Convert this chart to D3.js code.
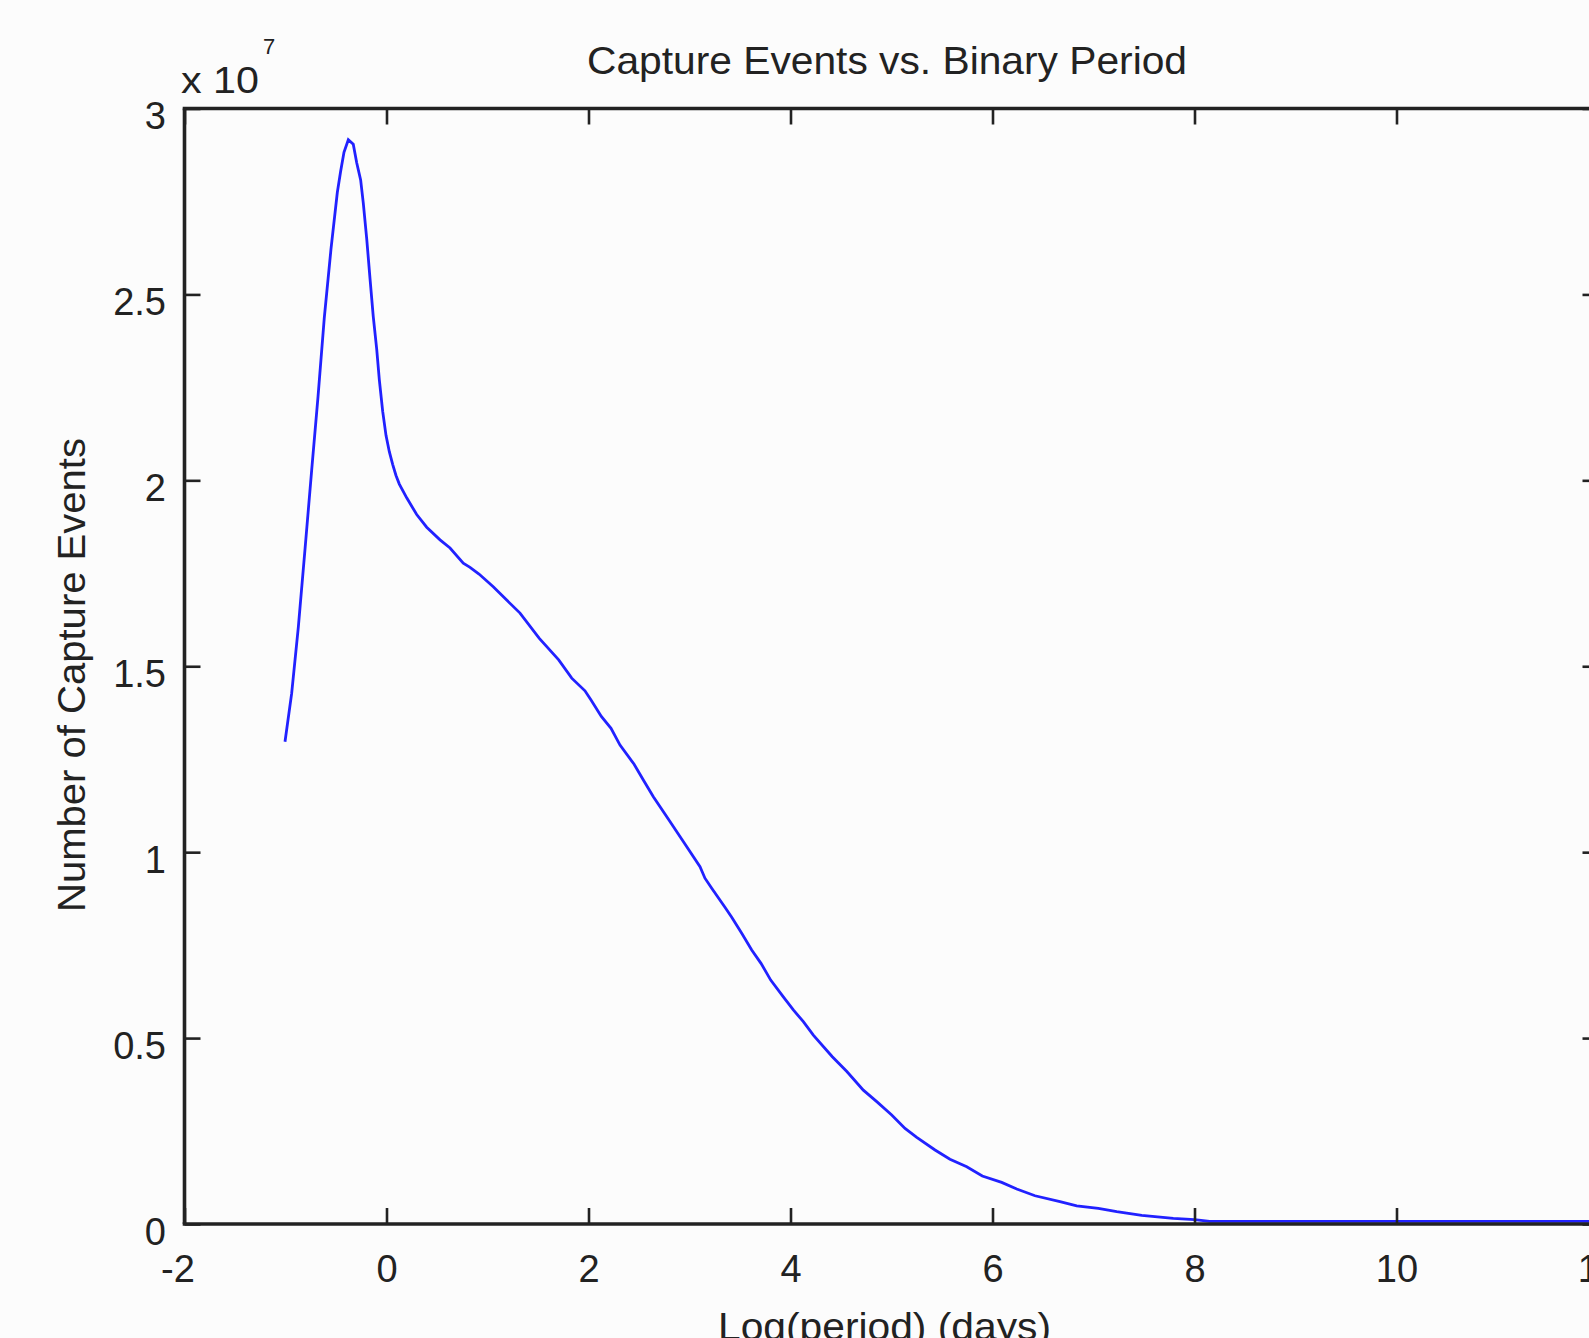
<!DOCTYPE html>
<html>
<head>
<meta charset="utf-8">
<script src="https://cdn.jsdelivr.net/npm/d3@7/dist/d3.min.js"></script>
<style>
  html, body { margin: 0; padding: 0; background: #fcfcfc; overflow: hidden; }
  svg { display: block; }
  text { font-family: "Liberation Sans", Arial, Helvetica, sans-serif; fill: #222; }
</style>
</head>
<body>
<svg id="chart" width="1589" height="1338"></svg>
<script>
// ---- data (y values in units of 1e7) ----
const logPeriod = [-1.005, -0.939, -0.873, -0.807, -0.741, -0.678, -0.616, -0.550, -0.487, -0.454, -0.421, -0.378,
  -0.329, -0.295, -0.256, -0.230, -0.196, -0.163, -0.131, -0.097, -0.071, -0.038, -0.005, 0.028, 0.061, 0.094,
  0.127, 0.200, 0.299, 0.398, 0.530, 0.629, 0.760, 0.827, 0.916, 1.057, 1.190, 1.322, 1.513, 1.705, 1.834,
  1.965, 2.025, 2.127, 2.223, 2.312, 2.450, 2.543, 2.642, 2.795, 2.950, 3.104, 3.153, 3.220, 3.351, 3.418,
  3.517, 3.616, 3.708, 3.804, 3.929, 4.028, 4.127, 4.226, 4.414, 4.558, 4.721, 4.854, 5.002, 5.134, 5.250,
  5.431, 5.579, 5.745, 5.899, 6.091, 6.240, 6.421, 6.668, 6.834, 7.048, 7.230, 7.478, 7.790, 8.000, 8.150,
  9.000, 10.000, 11.000, 12.000];
const captureEvents = [1.297, 1.427, 1.605, 1.814, 2.027, 2.225, 2.437, 2.621, 2.774, 2.831, 2.882, 2.916,
  2.904, 2.854, 2.808, 2.746, 2.650, 2.542, 2.440, 2.353, 2.270, 2.186, 2.121, 2.077, 2.043, 2.013,
  1.990, 1.953, 1.908, 1.874, 1.840, 1.818, 1.777, 1.766, 1.748, 1.714, 1.678, 1.643, 1.575, 1.517, 1.468,
  1.434, 1.409, 1.365, 1.333, 1.288, 1.237, 1.194, 1.149, 1.087, 1.024, 0.961, 0.930, 0.903, 0.852, 0.825,
  0.782, 0.737, 0.701, 0.656, 0.611, 0.576, 0.544, 0.508, 0.450, 0.410, 0.360, 0.329, 0.293, 0.257, 0.233,
  0.199, 0.174, 0.154, 0.129, 0.112, 0.094, 0.076, 0.060, 0.049, 0.042, 0.033, 0.023, 0.015, 0.012, 0.007,
  0.007, 0.007, 0.007, 0.007];
const xTicks = [-2, 0, 2, 4, 6, 8, 10, 12];
const xTickLabels = ["-2", "0", "2", "4", "6", "8", "10", "12"];
const yTicks = [0, 0.5, 1, 1.5, 2, 2.5, 3];
const yTickLabels = ["0", "0.5", "1", "1.5", "2", "2.5", "3"];
const titleText = "Capture Events vs. Binary Period";
const xLabelText = "Log(period) (days)";
const yLabelText = "Number of Capture Events";

// ---- layout ----
const plotLeft = 184.5, plotRight = 1598.5, plotTop = 108.5, plotBottom = 1224;
const svg = d3.select("#chart");
svg.append("rect").attr("width", 1589).attr("height", 1338).attr("fill", "#fcfcfc");

const x = d3.scaleLinear().domain([-2, 12]).range([plotLeft, plotRight]);
const y = d3.scaleLinear().domain([0, 3]).range([plotBottom, plotTop]);

const ink = "#222";
const tickLen = 16;

// data line
const line = d3.line().x((d, i) => x(logPeriod[i])).y((d, i) => y(captureEvents[i]));
svg.append("path")
  .datum(captureEvents)
  .attr("d", line)
  .attr("fill", "none")
  .attr("stroke", "#2121ff")
  .attr("stroke-width", 2.8)
  .attr("stroke-linejoin", "miter");

// axes with inward ticks
const xAxisBottom = d3.axisBottom(x).tickValues(xTicks).tickSize(-tickLen).tickSizeOuter(0).tickFormat((d, i) => xTickLabels[i]);
const xAxisTop = d3.axisTop(x).tickValues(xTicks).tickSize(-tickLen).tickSizeOuter(0).tickFormat("");
const yAxisLeft = d3.axisLeft(y).tickValues(yTicks).tickSize(-tickLen).tickSizeOuter(0).tickFormat((d, i) => yTickLabels[i]);
const yAxisRight = d3.axisRight(y).tickValues(yTicks).tickSize(-tickLen).tickSizeOuter(0).tickFormat("");

function styleAxis(g) {
  g.select(".domain").remove();
  g.selectAll(".tick line").attr("stroke", ink).attr("stroke-width", 2.6);
  g.selectAll(".tick text").attr("fill", ink).style("font-size", "38px")
    .style("font-family", '"Liberation Sans", Arial, sans-serif');
}

const gxb = svg.append("g").attr("transform", `translate(0,${plotBottom})`).call(xAxisBottom).call(styleAxis);
gxb.selectAll(".tick text").attr("y", 58).attr("dy", 0).attr("x", d => d < 0 ? -7 : 0);
svg.append("g").attr("transform", `translate(0,${plotTop})`).call(xAxisTop).call(styleAxis);
const gyl = svg.append("g").attr("transform", `translate(${plotLeft},0)`).call(yAxisLeft).call(styleAxis);
gyl.selectAll(".tick text").attr("x", -18.5).attr("dy", 0).attr("y", 20).attr("text-anchor", "end");
svg.append("g").attr("transform", `translate(${plotRight},0)`).call(yAxisRight).call(styleAxis);

// box frame
const frame = svg.append("g").attr("stroke", ink).attr("stroke-width", 3.6).attr("fill", "none");
frame.append("line").attr("x1", plotLeft - 1.8).attr("x2", plotRight + 1.8).attr("y1", plotTop).attr("y2", plotTop);
frame.append("line").attr("x1", plotLeft - 1.8).attr("x2", plotRight + 1.8).attr("y1", plotBottom).attr("y2", plotBottom);
frame.append("line").attr("x1", plotLeft).attr("x2", plotLeft).attr("y1", plotTop).attr("y2", plotBottom);
frame.append("line").attr("x1", plotRight).attr("x2", plotRight).attr("y1", plotTop).attr("y2", plotBottom);

// title
svg.append("text")
  .attr("x", 887).attr("y", 73.5)
  .attr("text-anchor", "middle")
  .attr("textLength", 600).attr("lengthAdjust", "spacingAndGlyphs")
  .style("font-size", "39px")
  .text(titleText);

// x label (cut by the bottom edge, as in the reference)
svg.append("text")
  .attr("x", 884.5).attr("y", 1340)
  .attr("text-anchor", "middle")
  .attr("textLength", 333).attr("lengthAdjust", "spacingAndGlyphs")
  .style("font-size", "39px")
  .text(xLabelText);

// y label
svg.append("text")
  .attr("transform", "translate(85,675) rotate(-90)")
  .attr("text-anchor", "middle")
  .attr("textLength", 474).attr("lengthAdjust", "spacingAndGlyphs")
  .style("font-size", "39px")
  .text(yLabelText);

// exponent multiplier
svg.append("text")
  .attr("x", 181).attr("y", 93.3)
  .attr("textLength", 78).attr("lengthAdjust", "spacingAndGlyphs")
  .style("font-size", "37px")
  .text("x 10");
svg.append("text")
  .attr("x", 263).attr("y", 54)
  .style("font-size", "22px")
  .text("7");
</script>
</body>
</html>
